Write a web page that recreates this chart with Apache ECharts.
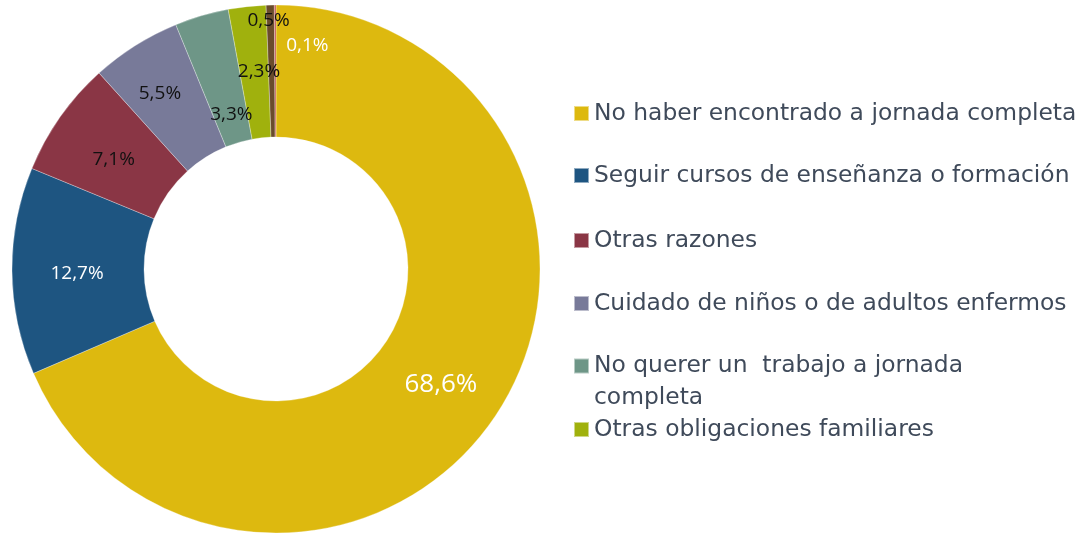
<!DOCTYPE html>
<html>
<head>
<meta charset="utf-8">
<script src="https://cdn.jsdelivr.net/npm/echarts@6/dist/echarts.min.js"></script>
<style>
html,body{margin:0;padding:0;background:#fff;}
#chart{width:1080px;height:535px;}
</style>
</head>
<body>
<div id="chart"></div>
<script>
const categories = [
  'No haber encontrado a jornada completa',
  'Seguir cursos de enseñanza o formación',
  'Otras razones',
  'Cuidado de niños o de adultos enfermos',
  'No querer un  trabajo a jornada completa',
  'Otras obligaciones familiares',
  'Otros',
  'No consta'
];
const values = [68.6, 12.7, 7.1, 5.5, 3.3, 2.3, 0.5, 0.1];
const legendNames = categories.slice(0, 6);

const palette = ['#DDB90F', '#1E5581', '#8A3645', '#787A99', '#6E9687', '#A0B10D', '#6A4C2C', '#C0504D'];
const labelColors = ['#ffffff', '#ffffff', '#111111', '#111111', '#111111', '#111111', '#111111', '#ffffff'];
const labelSizes = [26, 19, 19, 19, 19, 19, 19, 19];
const labelOffsets = [[-3, 5], [2, 3], [2, 6], [-9, -5], [12, 38], [5, 2], [-3, -47], [32, -22]];

const pieData = categories.map((name, i) => ({
  name: name,
  value: values[i],
  itemStyle: { color: palette[i] },
  label: {
    color: labelColors[i],
    fontSize: labelSizes[i],
    offset: labelOffsets[i]
  }
}));

const legendTops = [102, 164, 229, 292, 318, 418];
const legends = legendNames.map((n, i) => {
  const isTwo = i === 4;
  return {
    data: [n],
    left: 573,
    top: legendTops[i],
    padding: 0,
    orient: 'vertical',
    icon: 'rect',
    itemWidth: 15,
    itemHeight: 15,
    selectedMode: false,
    formatter: isTwo ? '\nNo querer un  trabajo a jornada\ncompleta' : '{name}',
    textStyle: isTwo ? {
      fontFamily: 'DejaVu Sans',
      fontSize: 23.4,
      color: '#3F4A5A',
      lineHeight: 32
    } : {
      fontFamily: 'DejaVu Sans',
      fontSize: 23.4,
      color: '#3F4A5A'
    }
  };
});

const chart = echarts.init(document.getElementById('chart'), null, { renderer: 'canvas' });
chart.setOption({
  animation: false,
  backgroundColor: '#ffffff',
  legend: legends,
  series: [{
    type: 'pie',
    center: [276, 269],
    radius: [132, 264],
    startAngle: 90,
    clockwise: true,
    minAngle: 0,
    avoidLabelOverlap: false,
    emphasis: { disabled: true },
    itemStyle: { borderColor: 'rgba(255,255,255,0.5)', borderWidth: 0.6 },
    label: {
      show: true,
      position: 'inside',
      fontFamily: 'Open Sans',
      formatter: p => p.value.toFixed(1).replace('.', ',') + '%'
    },
    labelLine: { show: false },
    data: pieData
  }]
});
</script>
</body>
</html>
